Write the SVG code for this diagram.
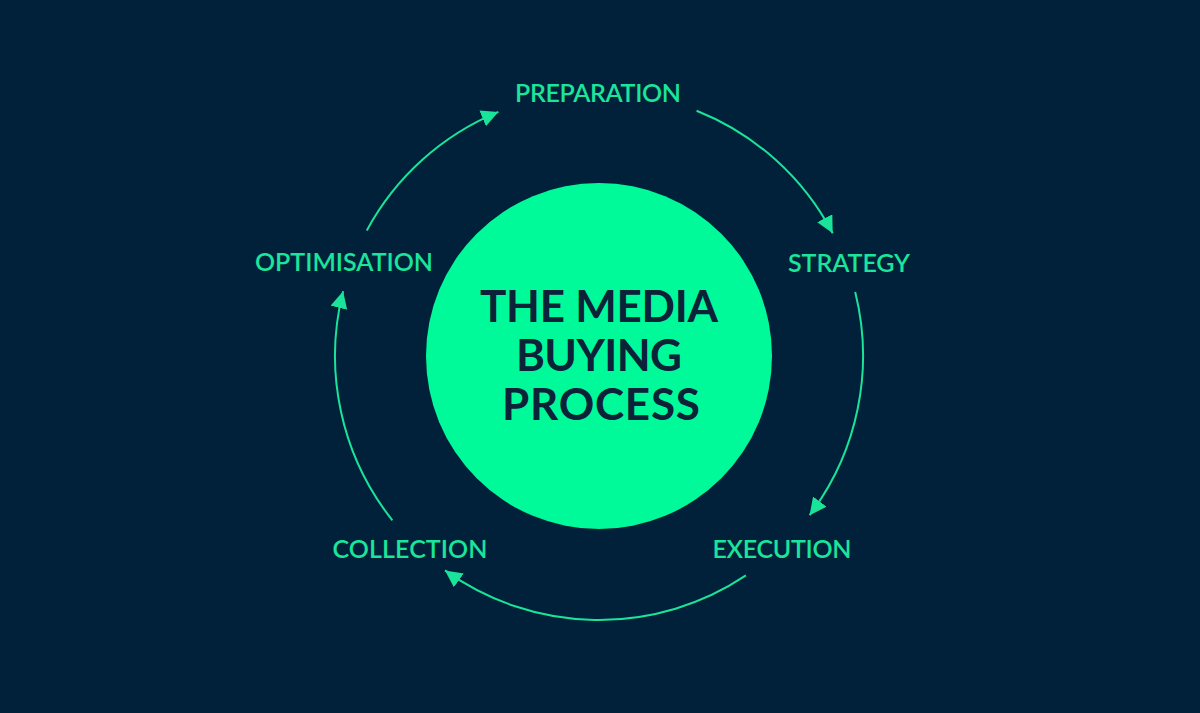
<svg xmlns="http://www.w3.org/2000/svg" width="1200" height="713" viewBox="0 0 1200 713">
  <defs>
    <style>
      .label { font-family: Lato, "Liberation Sans", sans-serif; font-size: 25px; font-weight: 600; fill: #1AE59B; text-anchor: middle; }
      .title { font-family: Lato, "Liberation Sans", sans-serif; font-size: 44px; font-weight: 700; fill: #0B2239; text-anchor: middle; }
      .arc { fill: none; stroke: #1AE39A; stroke-width: 2; marker-end: url(#arrow); }
    </style>
    <marker id="arrow" markerUnits="userSpaceOnUse" markerWidth="19" markerHeight="18" refX="17" refY="8.5" orient="auto">
      <path d="M0,0 L17,8.5 L0,17 Z" fill="#1AE39A"/>
    </marker>
  </defs>
  <rect width="1200" height="713" fill="#01213A"/>

  <g id="center">
    <circle cx="599" cy="356" r="173" fill="#00FA9A"/>
    <text class="title" x="599" y="322" textLength="238" lengthAdjust="spacing">THE MEDIA</text>
    <text class="title" x="599" y="371" textLength="166" lengthAdjust="spacing">BUYING</text>
    <text class="title" x="601" y="420" textLength="198" lengthAdjust="spacing">PROCESS</text>
  </g>

  <g id="connectors">
    <path class="arc" d="M696.6,110.7 A264,264 0 0 1 832.7,233.3"/>
    <path class="arc" d="M855.2,292.1 A264,264 0 0 1 809.6,515.2"/>
    <path class="arc" d="M745.9,575.4 A264,264 0 0 1 445.0,570.4"/>
    <path class="arc" d="M392.4,520.3 A264,264 0 0 1 343.1,291.2"/>
    <path class="arc" d="M366.8,230.4 A264,264 0 0 1 498.4,111.9"/>
  </g>

  <g id="preparation">
    <text class="label" x="598" y="102" textLength="166" lengthAdjust="spacing">PREPARATION</text>
  </g>
  <g id="strategy">
    <text class="label" x="849" y="272" textLength="122" lengthAdjust="spacing">STRATEGY</text>
  </g>
  <g id="execution">
    <text class="label" x="782" y="558" textLength="139" lengthAdjust="spacing">EXECUTION</text>
  </g>
  <g id="collection">
    <text class="label" x="410" y="558" textLength="155" lengthAdjust="spacing">COLLECTION</text>
  </g>
  <g id="optimisation">
    <text class="label" x="344" y="271" textLength="178" lengthAdjust="spacing">OPTIMISATION</text>
  </g>
</svg>
